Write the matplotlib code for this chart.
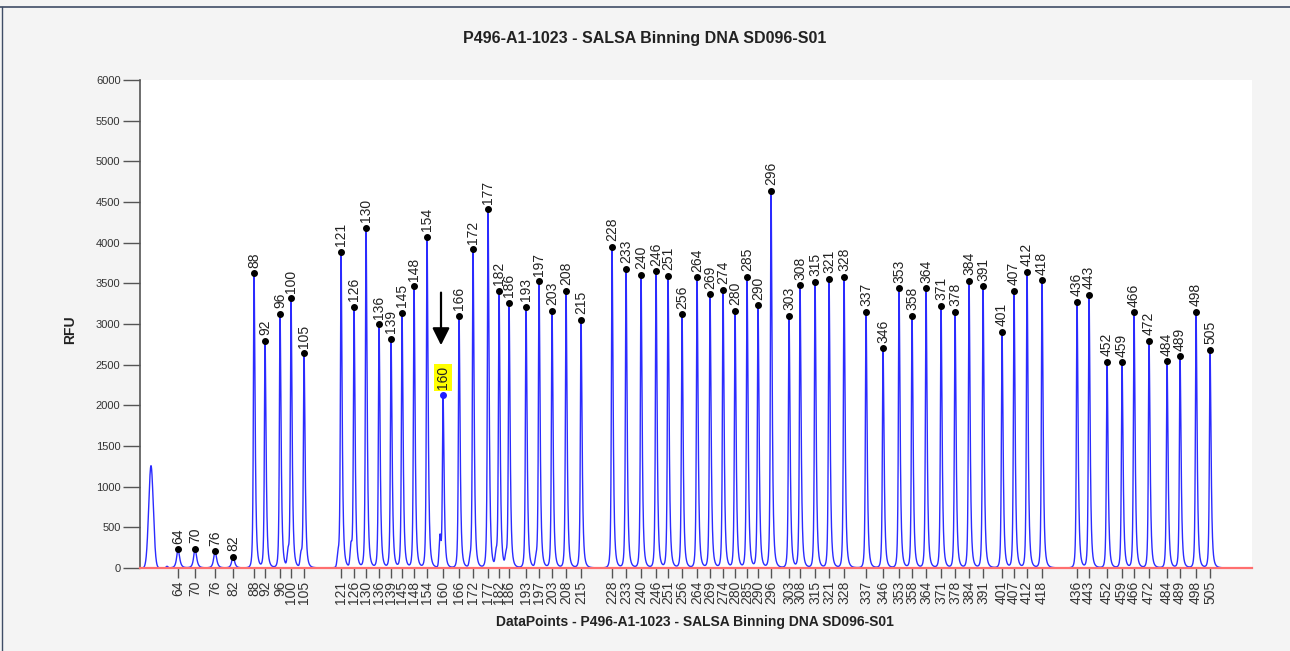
import numpy as np
import matplotlib
matplotlib.use("Agg")
import matplotlib.pyplot as plt
from matplotlib.lines import Line2D

plt.rcParams['font.family'] = ['Liberation Sans', 'DejaVu Sans']

# peak sizes (labels), positions (data points) and heights (RFU)
sizes = [64, 70, 76, 82, 88, 92, 96, 100, 105, 121, 126, 130, 136, 139, 145, 148,
         154, 160, 166, 172, 177, 182, 186, 193, 197, 203, 208, 215, 228, 233, 240,
         246, 251, 256, 264, 269, 274, 280, 285, 290, 296, 303, 308, 315, 321, 328,
         337, 346, 353, 358, 364, 371, 378, 384, 391, 401, 407, 412, 418, 436, 443,
         452, 459, 466, 472, 484, 489, 498, 505]
positions = [38, 55, 75, 93, 114, 125, 140, 151, 164, 201, 214, 226, 239, 251, 262, 274,
             287, 303, 319, 333, 348, 359, 369, 386, 399, 412, 426, 441, 472, 486, 501,
             516, 528, 542, 557, 570, 583, 595, 607, 618, 631, 649, 660, 675, 689, 704,
             726, 743, 759, 772, 786, 801, 815, 829, 843, 862, 874, 887, 902, 937, 949,
             967, 982, 994, 1009, 1027, 1040, 1056, 1070]
heights = [230, 234, 205, 135, 3623, 2791, 3123, 3316, 2640, 3889, 3209, 4184, 2996, 2816,
           3139, 3463, 4074, 2131, 3098, 3918, 4410, 3406, 3258, 3209, 3525, 3160, 3410,
           3049, 3951, 3680, 3607, 3648, 3590, 3119, 3574, 3365, 3422, 3164, 3582, 3230,
           4639, 3098, 3476, 3516, 3557, 3582, 3148, 2701, 3439, 3098, 3439, 3221, 3152,
           3533, 3463, 2902, 3410, 3639, 3537, 3275, 3357, 2533, 2529, 3144, 2791, 2541,
           2603, 3148, 2680]
highlight = 160

# unlabelled peaks: primer peak and small shoulders
extra_pos = [11, 27, 148, 161, 198, 211, 300, 356, 366, 396, 330]
extra_h = [1258, 20, 170, 150, 150, 250, 370, 150, 120, 100, 80]

x = np.arange(0, 1112, 0.1)
y = np.zeros_like(x)
for p, h in zip(positions, heights):
    small = h < 500
    wl = 2.2 if small else 1.0
    wr = 2.6 if small else 1.7
    d = x - p
    w = np.where(d < 0, wl, wr)
    y += h / (1 + (d / w) ** 2) ** 1.7
for p, h in zip(extra_pos, extra_h):
    w = 2.3 if h > 1000 else 0.9
    y += h * np.exp(-0.5 * ((x - p) / w) ** 2)

fig = plt.figure(figsize=(12.9, 6.51), dpi=100, facecolor='#f4f4f4')
ax = fig.add_axes([140 / 1290, 83 / 651, 1112 / 1290, 488 / 651])
ax.set_facecolor('white')

ax.plot(x, y, color='#2b2bff', lw=1.0, zorder=2)
ax.axhline(0, color='#ff6f6f', lw=1.6, zorder=3, clip_on=False)

for s, p, h in zip(sizes, positions, heights):
    hl = (s == highlight)
    ax.plot(p, h, 'o', color='#1f1fff' if hl else 'black', ms=4, zorder=4)
    ax.annotate(str(s), (p, h), xytext=(0, 4), textcoords='offset points',
                rotation=90, ha='center', va='bottom', fontsize=10, color='#222222',
                bbox=dict(boxstyle='square,pad=0.15', fc='#ffff00', ec='none') if hl else None)

hp = positions[sizes.index(highlight)]
ax.annotate('', xy=(hp - 2, 2705), xytext=(hp - 2, 3420),
            arrowprops=dict(arrowstyle='-|>', color='black', lw=1.6, mutation_scale=26))

ax.set_xlim(0, 1112)
ax.set_ylim(0, 6000)
ax.set_yticks(np.arange(0, 6001, 500))
ax.set_xticks(positions)
ax.set_xticklabels([str(s) for s in sizes], rotation=90, fontsize=10, color='#333333')
ax.tick_params(axis='y', length=12, width=1, color='#555555', labelsize=8, labelcolor='#333333', pad=2)
ax.tick_params(axis='x', length=7, width=1, color='#555555', pad=2)

for sp in ['top', 'right', 'bottom']:
    ax.spines[sp].set_visible(False)
ax.spines['left'].set_color('#555555')
ax.spines['left'].set_linewidth(1.2)

fig.text(645 / 1290, 1 - 38 / 651, 'P496-A1-1023 - SALSA Binning DNA SD096-S01',
         ha='center', va='center', fontsize=11.5, fontweight='bold', color='#222222')
fig.text(70 / 1290, 1 - 330 / 651, 'RFU', rotation=90, ha='center', va='center',
         fontsize=10, fontweight='bold', color='#222222')
fig.text(695 / 1290, 1 - 622 / 651, 'DataPoints - P496-A1-1023 - SALSA Binning DNA SD096-S01',
         ha='center', va='center', fontsize=10, fontweight='bold', color='#222222')

# frame lines of the panel
fig.add_artist(Line2D([0, 1], [1 - 7 / 651, 1 - 7 / 651], transform=fig.transFigure,
                      color='#3f4d66', lw=1.2))
fig.add_artist(Line2D([2 / 1290, 2 / 1290], [0, 1 - 7 / 651], transform=fig.transFigure,
                      color='#3f4d66', lw=1.0))

fig.savefig('out.png', dpi=100, facecolor=fig.get_facecolor())
